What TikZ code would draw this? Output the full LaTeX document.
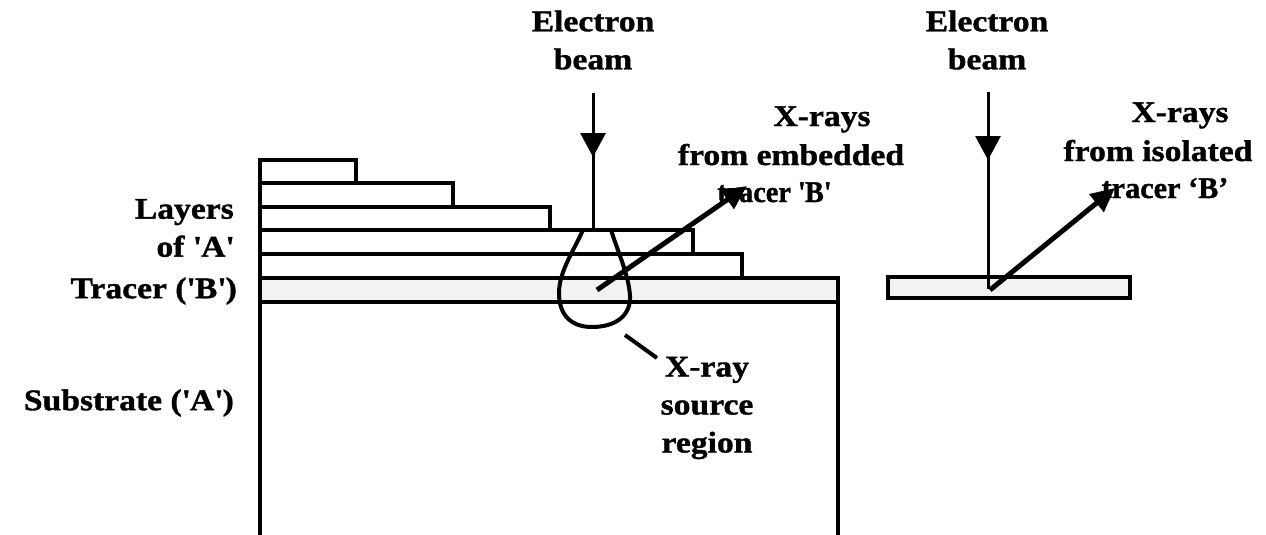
\documentclass[tikz,border=0pt]{standalone}
\usepackage{fontspec}
\setmainfont{Liberation Serif}[FakeStretch=1.12, BoldFeatures={FakeBold=1.2}]
\usetikzlibrary{arrows.meta}
\newcommand{\sqt}{\textquotesingle}
\tikzset{
  lbl/.style={font=\bfseries\fontsize{30}{38}\selectfont, inner sep=0pt, align=center},
  lblb/.style={font=\bfseries\fontsize{30}{38}\selectfont, inner sep=0pt, anchor=base},
  layer/.style={draw=black, line width=4.5pt},
  beamline/.style={draw=black, line width=3pt},
  beamtip/.style={draw=black, line width=3pt, -{Triangle[width=25pt,length=24pt]}},
  xray/.style={draw=black, line width=5pt, -{Triangle[width=22pt,length=24pt]}},
  volume/.style={draw=black, line width=4pt},
}
\begin{document}
\begin{tikzpicture}[x=1pt,y=-1pt]
\useasboundingbox (0,0) rectangle (1266,535);
\fill[white] (0,0) rectangle (1266,535);
% tracer band and substrate
\draw[layer, fill=gray!10] (260,278) rectangle (838,302);
\draw[layer] (260,300) -- (260,540);
\draw[layer] (838,300) -- (838,540);
% layers of A
\draw[layer] (260,160) rectangle (356,183);
\draw[layer] (260,183) rectangle (453,207);
\draw[layer] (260,207) rectangle (550,230);
\draw[layer] (260,230) rectangle (693,254);
\draw[layer] (260,254) rectangle (742,278);
% isolated tracer
\draw[layer, fill=gray!10] (888,277) rectangle (1130,298);
% interaction volume
\draw[volume] (583,230) .. controls (573,252) and (559,272) .. (559,293)
  .. controls (559,316) and (572,327) .. (592,327)
  .. controls (615,327) and (631,316) .. (630,296)
  .. controls (629,276) and (618,252) .. (611,230);
% coordinates
\coordinate (b1top) at (593,93);
\coordinate (b1mid) at (593,157);
\coordinate (b1hit) at (593,230);
\coordinate (x1src) at (597,290);
\coordinate (x1end) at (747,186);
\coordinate (b2top) at (988,92);
\coordinate (b2mid) at (988,160);
\coordinate (b2hit) at (988,289);
\coordinate (x2src) at (990,290);
\coordinate (x2end) at (1115,188);
\coordinate (ldA) at (625,335);
\coordinate (ldB) at (657,358);
% beams and x-rays
\draw[beamline] (b1top) -- (b1hit);
\draw[beamtip] (b1top) -- (b1mid);
\draw[xray] (x1src) -- (x1end);
\draw[beamline] (b2top) -- (b2hit);
\draw[beamtip] (b2top) -- (b2mid);
\draw[xray] (x2src) -- (x2end);
\draw[volume] (ldA) -- (ldB);
% labels
\node[lbl] (eb1) at (593,40) {Electron\\beam};
\node[lbl] (eb2) at (987,40) {Electron\\beam};
\node[lblb] (xr1a) at (822,126) {X-rays};
\node[lblb] (xr1b) at (791,165) {from embedded};
\node[lblb] (xr1c) at (774,202) {\scalebox{0.84}[1]{tracer \sqt B\sqt}};
\node[lblb] (xr2a) at (1180,122) {X-rays};
\node[lblb] (xr2b) at (1158,161) {from isolated};
\node[lblb] (xr2c) at (1165,198) {\scalebox{0.9}[1]{tracer `B'}};
\node[lbl, align=right, anchor=east] (lay) at (234,228) {Layers\\of \sqt A\sqt};
\node[lbl, anchor=east] (trc) at (237,291) {Tracer (\sqt B\sqt)};
\node[lbl, anchor=east] (sub) at (234,403) {Substrate (\sqt A\sqt)};
\node[lbl] (src) at (707,408) {X-ray\\source\\region};
\end{tikzpicture}
\end{document}
